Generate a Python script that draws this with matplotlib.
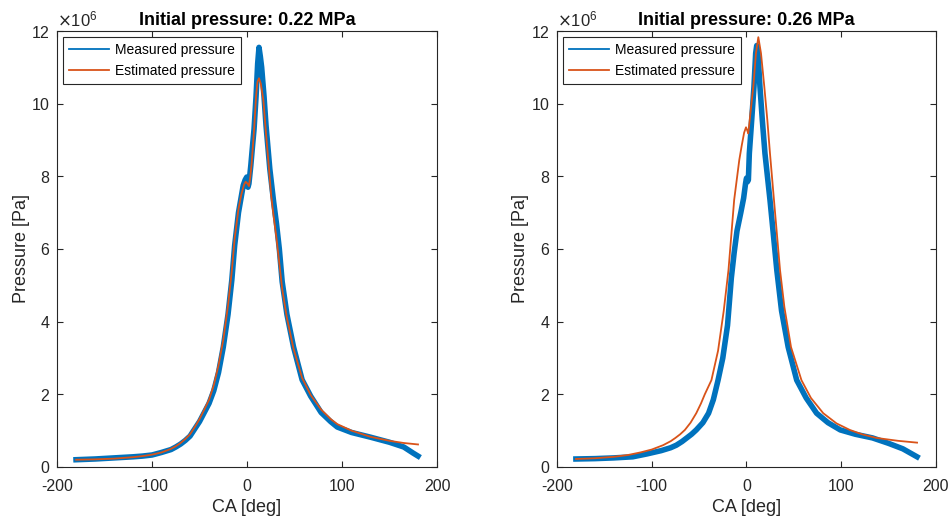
"""Measured vs estimated cylinder pressure for two initial pressures."""

import numpy as np
import matplotlib.pyplot as plt
from matplotlib.ticker import ScalarFormatter

plt.rcParams['font.family'] = ['Liberation Sans', 'DejaVu Sans']
plt.rcParams['axes.unicode_minus'] = False

BLUE = '#0072BD'
ORANGE = '#D95319'

# ---- 0.22 MPa case (values in MPa) ----
ca_meas_1 = [-180, -160, -140, -120, -110, -100, -90, -80, -75, -70, -65, -60, -55, -50, -45, -40,
             -35, -30, -25, -20, -16, -13, -9, -6, -4, -2, -0.3, 1, 2, 4, 6, 7.4, 9.5, 11.2, 12.6,
             14, 15.4, 17.9, 20, 24, 28, 31, 34, 37, 42, 49, 58, 67, 78, 88, 95, 110, 130, 150,
             165, 175, 180]
p_meas_1 = [0.20, 0.22, 0.25, 0.28, 0.30, 0.33, 0.40, 0.48, 0.55, 0.63, 0.73, 0.85, 1.05, 1.25,
            1.5, 1.75, 2.1, 2.6, 3.3, 4.2, 5.15, 6.1, 7.0, 7.45, 7.75, 7.9, 7.98, 7.7, 7.8, 8.3,
            8.9, 9.3, 10.2, 11.1, 11.55, 11.3, 11.0, 10.2, 9.4, 8.2, 7.3, 6.7, 6.0, 5.1, 4.2, 3.3,
            2.4, 1.95, 1.5, 1.25, 1.1, 0.95, 0.82, 0.68, 0.55, 0.38, 0.3]

ca_est_1 = [-180, -160, -140, -120, -110, -100, -90, -80, -75, -70, -65, -60, -55, -50, -45, -40,
            -35, -30, -25, -20, -16, -13, -9, -6, -3, -1.4, 0.5, 2, 3.5, 4.9, 7.4, 9.5, 11, 12.6,
            14.5, 17.2, 19.6, 22.5, 25.3, 28, 31, 34, 37, 42, 49, 58, 67, 78, 88, 95, 110, 130,
            150, 165, 180]
p_est_1 = [0.20, 0.21, 0.23, 0.27, 0.30, 0.34, 0.40, 0.50, 0.57, 0.66, 0.77, 0.90, 1.1, 1.32, 1.58,
           1.85, 2.25, 2.8, 3.5, 4.45, 5.4, 6.3, 7.1, 7.5, 7.78, 7.85, 7.8, 7.73, 8.0, 8.36, 9.28,
           10.2, 10.6, 10.7, 10.55, 10.1, 9.3, 8.4, 7.5, 6.9, 6.3, 5.6, 4.9, 4.1, 3.25, 2.45, 1.98,
           1.58, 1.32, 1.18, 1.0, 0.83, 0.72, 0.66, 0.62]

# ---- 0.26 MPa case (values in MPa) ----
ca_meas_2 = [-180, -160, -140, -120, -105, -90, -80, -74, -68, -63, -58, -53, -46, -40, -35, -30,
             -25, -20, -16, -13, -10, -6, -3, -1, 0, 1, 2, 3, 5.5, 7.9, 9.7, 10.8, 12, 14.2, 16.7,
             19.5, 24.8, 28, 32, 37, 44, 53, 63, 74, 86, 99, 115, 133, 150, 165, 180]
p_meas_2 = [0.22, 0.23, 0.25, 0.28, 0.36, 0.45, 0.53, 0.6, 0.7, 0.8, 0.9, 1.02, 1.22, 1.48, 1.85,
            2.39, 3.0, 3.9, 5.2, 5.9, 6.5, 7.0, 7.4, 7.8, 7.95, 7.85, 7.9, 8.63, 9.55, 10.47, 11.39,
            11.6, 11.45, 10.47, 9.55, 8.63, 7.35, 6.5, 5.42, 4.3, 3.3, 2.39, 1.9, 1.48, 1.22, 1.02,
            0.9, 0.8, 0.65, 0.5, 0.28]

ca_est_2 = [-180, -160, -140, -125, -112, -100, -88, -80, -75, -70, -65, -59, -53, -48, -44, -37,
            -30, -24, -19, -13, -7.6, -5, -2.5, -0.5, 1, 1.9, 4, 7.2, 10, 12.5, 15.3, 18.8, 22,
            24.8, 29, 35.4, 40, 47, 58, 68, 81, 95, 109, 122, 137, 160, 180]
p_est_2 = [0.22, 0.24, 0.28, 0.33, 0.4, 0.48, 0.6, 0.71, 0.8, 0.9, 1.02, 1.22, 1.48, 1.75, 2.0,
           2.39, 3.2, 4.3, 5.42, 7.35, 8.45, 8.85, 9.2, 9.35, 9.25, 9.18, 9.7, 10.47, 11.39, 11.83,
           11.39, 10.47, 9.55, 8.63, 7.35, 5.42, 4.4, 3.3, 2.39, 1.9, 1.48, 1.2, 1.02, 0.9, 0.8,
           0.72, 0.67]

cases = [
    ("Initial pressure: 0.22 MPa", ca_meas_1, p_meas_1, ca_est_1, p_est_1),
    ("Initial pressure: 0.26 MPa", ca_meas_2, p_meas_2, ca_est_2, p_est_2),
]

fig = plt.figure(figsize=(9.49, 5.22), dpi=100)
positions = [[0.0601, 0.1054, 0.4004, 0.8352], [0.5869, 0.1054, 0.3994, 0.8352]]

for pos, (title, ca_m, p_m, ca_e, p_e) in zip(positions, cases):
    ax = fig.add_axes(pos)
    ax.plot(ca_m, np.array(p_m) * 1e6, color=BLUE, lw=4.0, solid_joinstyle='round',
            label='Measured pressure')
    ax.plot(ca_e, np.array(p_e) * 1e6, color=ORANGE, lw=1.3, label='Estimated pressure')

    ax.set_xlim(-200, 200)
    ax.set_ylim(0, 12e6)
    ax.set_xticks([-200, -100, 0, 100, 200])
    ax.set_yticks(np.arange(0, 13e6, 2e6))
    fmt = ScalarFormatter(useMathText=True)
    fmt.set_powerlimits((6, 6))
    ax.yaxis.set_major_formatter(fmt)
    ax.yaxis.get_offset_text().set_fontsize(12)
    ax.yaxis.get_offset_text().set_color('#262626')

    ax.tick_params(direction='in', top=True, right=True, labelsize=11.5,
                   colors='#262626', length=4, width=0.8)
    ax.tick_params(axis='x', pad=9)
    ax.tick_params(axis='y', pad=5)
    for s in ax.spines.values():
        s.set_color('#262626')
        s.set_linewidth(0.8)

    ax.set_title(title, fontsize=13, fontweight='bold', pad=4)
    ax.set_xlabel('CA [deg]', fontsize=13, color='#262626', labelpad=3)
    ax.set_ylabel('Pressure [Pa]', fontsize=13, color='#262626', labelpad=1)

    leg = ax.legend(loc='upper left', fontsize=10, fancybox=False, framealpha=1,
                    edgecolor='#262626', borderaxespad=0.4, handlelength=2.9,
                    borderpad=0.45, labelspacing=0.5, handletextpad=0.45)
    leg.get_frame().set_linewidth(0.8)
    for line in leg.get_lines():
        line.set_linewidth(1.3)

fig.savefig('out.png', dpi=100)
